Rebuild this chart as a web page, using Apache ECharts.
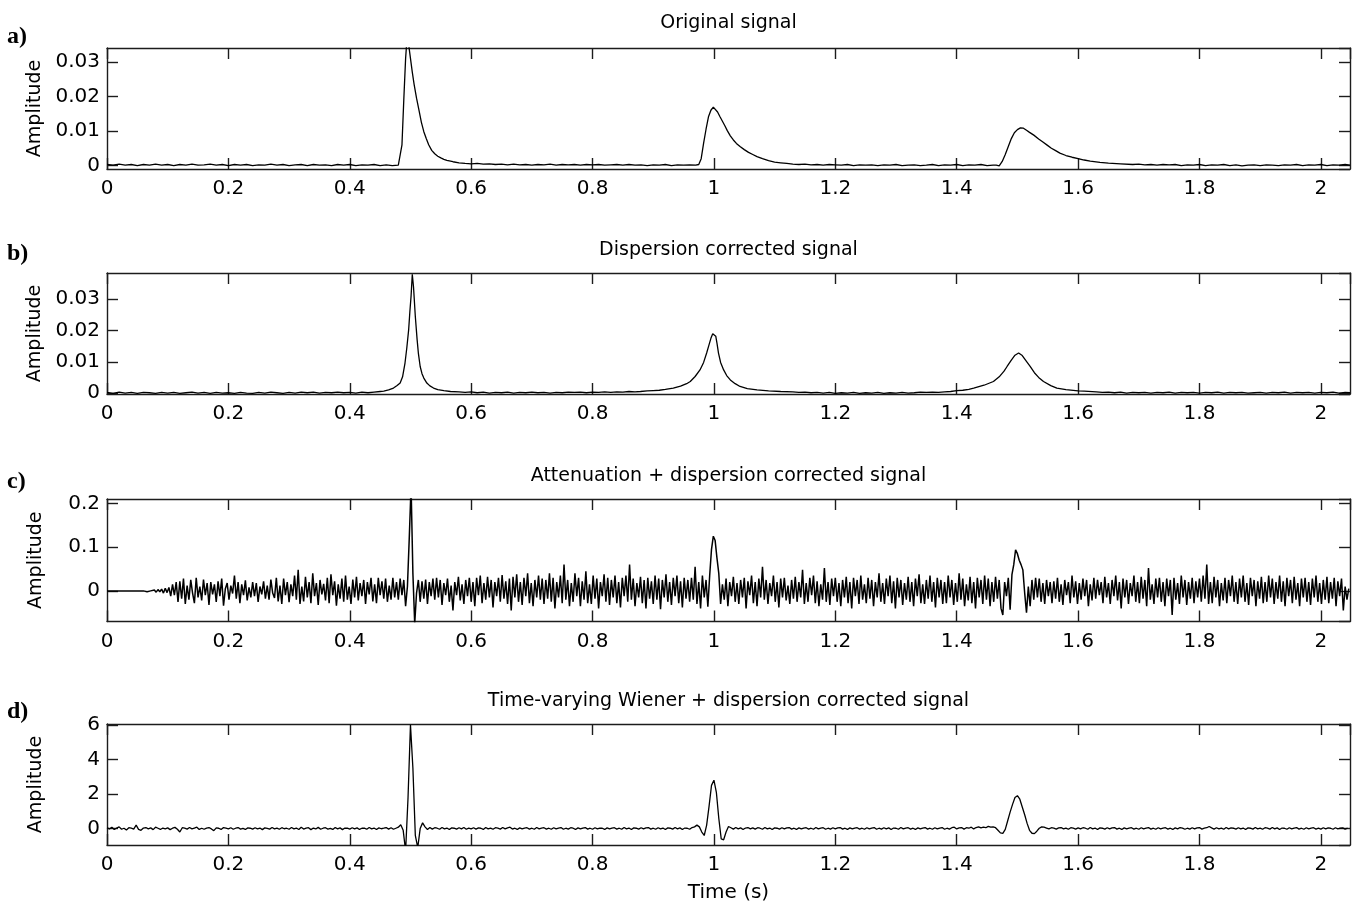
<!DOCTYPE html>
<html>
<head>
<meta charset="utf-8">
<script src="https://cdn.jsdelivr.net/npm/echarts@6/dist/echarts.min.js"></script>
<style>
  html, body { margin: 0; padding: 0; background: #fff; }
  #chart { width: 1354px; height: 904px; }
</style>
</head>
<body>
<div id="chart"></div>
<script>
// ---- Time axis ----
const timeRange = [0, 2.048];
const timeTickStep = 0.2;

// ---- Panel texts ----
const panelLetters = ['a)', 'b)', 'c)', 'd)'];
const panelTitles = [
  'Original signal',
  'Dispersion corrected signal',
  'Attenuation + dispersion corrected signal',
  'Time-varying Wiener + dispersion corrected signal'
];
const amplitudeName = 'Amplitude';
const timeName = 'Time (s)';

// ---- Amplitude axes ----
const amplitudeRanges = [[-0.001, 0.034], [-0.0003, 0.0384], [-0.07, 0.21], [-0.95, 6.05]];
const amplitudeTickSteps = [0.01, 0.01, 0.1, 2];

// ---- a) Original signal: [time (s), amplitude] ----
const originalSignal = [
[0,0.0003],[0.01,0.0001],[0.02,0.0004],[0.03,0.0001],[0.04,0.0003],[0.05,0.0],[0.06,0.0003],[0.07,0.0001],[0.08,0.0004],[0.09,0.0001],
[0.1,0.0003],[0.11,0.0],[0.12,0.0003],[0.13,0.0001],[0.14,0.0004],[0.15,0.0001],[0.16,0.0002],[0.17,0.0004],[0.18,0.0001],[0.19,0.0003],
[0.2,0.0],[0.21,0.0003],[0.22,0.0001],[0.23,0.0003],[0.24,0.0],[0.25,0.0002],[0.26,0.0001],[0.27,0.0004],[0.28,0.0001],[0.29,0.0003],
[0.3,0.0],[0.31,0.0002],[0.32,0.0003],[0.33,0.0],[0.34,0.0003],[0.35,0.0001],[0.36,0.0002],[0.37,0.0],[0.38,0.0003],[0.39,0.0001],
[0.4,0.0003],[0.41,0.0],[0.42,0.0002],[0.43,0.0001],[0.44,0.0003],[0.45,0.0],[0.46,0.0002],[0.47,0.0],[0.48,0.0001],
[0.483,0.0002],[0.486,0.006],[0.489,0.019],[0.492,0.031],[0.494,0.036],[0.497,0.035],[0.5,0.031],[0.503,0.027],[0.506,0.0235],[0.51,0.0195],
[0.514,0.016],[0.518,0.0125],[0.522,0.0098],[0.526,0.0078],[0.53,0.006],[0.535,0.0044],[0.54,0.0034],[0.545,0.0027],[0.55,0.0022],[0.555,0.0018],
[0.56,0.0015],[0.57,0.0011],[0.58,0.0008],[0.59,0.0006],[0.6,0.0005],[0.61,0.0006],[0.62,0.0004],[0.63,0.0005],[0.64,0.0003],[0.65,0.0004],
[0.66,0.0002],[0.67,0.0004],[0.68,0.0002],[0.69,0.0003],[0.7,0.0001],[0.71,0.0003],[0.72,0.0002],[0.73,0.0004],[0.74,0.0001],[0.75,0.0003],
[0.76,0.0002],[0.77,0.0003],[0.78,0.0001],[0.79,0.0003],[0.8,0.0002],[0.81,0.0003],[0.82,0.0001],[0.83,0.0002],[0.84,0.0003],[0.85,0.0001],
[0.86,0.0003],[0.87,0.0001],[0.88,0.0002],[0.89,0.0],[0.9,0.0002],[0.91,0.0001],[0.92,0.0003],[0.93,0.0],[0.94,0.0002],[0.95,0.0001],[0.96,0.0002],[0.97,0.0001],
[0.975,0.0003],[0.979,0.002],[0.983,0.0065],[0.987,0.0105],[0.991,0.0141],[0.995,0.016],[0.999,0.0169],[1.002,0.0166],[1.006,0.0155],[1.01,0.0141],
[1.014,0.0128],[1.018,0.0115],[1.022,0.0101],[1.027,0.0086],[1.032,0.0074],[1.037,0.0064],[1.043,0.0055],[1.05,0.0046],[1.057,0.0038],[1.064,0.0032],
[1.071,0.0026],[1.08,0.002],[1.09,0.0014],[1.1,0.001],[1.11,0.0008],[1.12,0.0006],[1.13,0.0004],[1.14,0.0003],[1.15,0.0004],[1.16,0.0002],
[1.17,0.0003],[1.18,0.0001],[1.19,0.0003],[1.2,0.0002],[1.21,0.0001],[1.22,0.0003],[1.23,0.0],[1.24,0.0002],[1.25,0.0001],[1.26,0.0002],
[1.27,0.0],[1.28,0.0002],[1.29,0.0001],[1.3,0.0003],[1.31,0.0],[1.32,0.0001],[1.33,0.0002],[1.34,0.0],[1.35,0.0001],[1.36,0.0003],
[1.37,0.0],[1.38,0.0002],[1.39,0.0001],[1.4,0.0003],[1.41,0.0],[1.42,0.0002],[1.43,0.0001],[1.44,0.0003],[1.45,0.0],[1.46,0.0001],[1.465,0.0001],
[1.47,-0.0001],[1.475,0.0012],[1.48,0.0032],[1.485,0.0055],[1.49,0.0078],[1.495,0.0095],[1.5,0.0104],[1.505,0.0109],[1.51,0.0108],[1.515,0.0102],
[1.52,0.0096],[1.527,0.0088],[1.535,0.0077],[1.542,0.0068],[1.549,0.0059],[1.556,0.005],[1.563,0.0043],[1.57,0.0036],[1.58,0.0029],[1.59,0.0024],
[1.6,0.002],[1.61,0.0016],[1.62,0.0013],[1.636,0.0009],[1.65,0.0007],[1.67,0.0005],[1.69,0.0003],[1.7,0.0004],[1.71,0.0002],[1.72,0.0003],
[1.73,0.0001],[1.74,0.0003],[1.75,0.0002],[1.76,0.0003],[1.77,0.0],[1.78,0.0002],[1.79,0.0001],[1.8,0.0003],[1.81,0.0],[1.82,0.0002],
[1.83,0.0001],[1.84,0.0003],[1.85,0.0],[1.86,0.0002],[1.87,-0.0001],[1.88,0.0001],[1.89,0.0002],[1.9,0.0],[1.91,0.0002],[1.92,0.0001],
[1.93,0.0],[1.94,0.0002],[1.95,0.0001],[1.96,0.0003],[1.97,0.0],[1.98,0.0002],[1.99,0.0001],[2.0,0.0003],[2.01,0.0],[2.02,0.0002],[2.03,0.0001],[2.04,0.0003],[2.048,0.0001]
];

// ---- b) Dispersion corrected signal: [time (s), amplitude] ----
const dispersionCorrected = [
[0,0.0002],[0.01,-0.0001],[0.02,0.0003],[0.03,0.0],[0.04,0.0002],[0.05,-0.0001],[0.06,0.0002],[0.07,0.0001],[0.08,-0.0001],[0.09,0.0002],
[0.1,0.0],[0.11,0.0002],[0.12,-0.0001],[0.13,0.0001],[0.14,0.0003],[0.15,0.0],[0.16,0.0002],[0.17,-0.0001],[0.18,0.0002],[0.19,0.0],
[0.2,0.0001],[0.21,-0.0001],[0.22,0.0002],[0.23,0.0],[0.24,-0.0001],[0.25,0.0002],[0.26,0.0],[0.27,0.0003],[0.28,0.0001],[0.29,-0.0001],
[0.3,0.0002],[0.31,0.0],[0.32,0.0003],[0.33,0.0001],[0.34,0.0003],[0.35,0.0],[0.36,0.0002],[0.37,0.0001],[0.38,0.0003],[0.39,0.0001],
[0.4,0.0002],[0.41,0.0],[0.42,0.0003],[0.43,0.0001],[0.44,0.0003],[0.45,0.0005],[0.456,0.0006],[0.464,0.001],[0.472,0.0016],[0.478,0.0024],
[0.483,0.0032],[0.487,0.0052],[0.491,0.0096],[0.494,0.0145],[0.497,0.0202],[0.499,0.026],[0.501,0.031],[0.503,0.038],[0.505,0.034],[0.508,0.0245],
[0.511,0.017],[0.513,0.0128],[0.516,0.0085],[0.519,0.0062],[0.522,0.0048],[0.527,0.0032],[0.532,0.0023],[0.538,0.0016],[0.545,0.0011],[0.555,0.0008],
[0.566,0.0005],[0.58,0.0004],[0.59,0.0002],[0.6,0.0004],[0.61,0.0001],[0.62,0.0003],[0.63,0.0],[0.64,0.0002],[0.65,0.0001],[0.66,0.0003],
[0.67,0.0],[0.68,0.0002],[0.69,0.0001],[0.7,0.0003],[0.71,0.0001],[0.72,0.0002],[0.73,0.0],[0.74,0.0002],[0.75,0.0001],[0.76,0.0003],
[0.77,0.0002],[0.78,0.0003],[0.79,0.0001],[0.8,0.0003],[0.81,0.0002],[0.82,0.0004],[0.83,0.0002],[0.84,0.0004],[0.85,0.0003],[0.86,0.0005],
[0.87,0.0004],[0.879,0.0005],[0.89,0.0007],[0.9,0.0008],[0.91,0.0009],[0.92,0.0012],[0.933,0.0016],[0.945,0.0022],[0.955,0.003],[0.961,0.0037],
[0.969,0.0053],[0.977,0.0074],[0.983,0.0098],[0.988,0.0128],[0.992,0.0155],[0.995,0.0175],[0.998,0.019],[1.0,0.0193],[1.003,0.0182],[1.005,0.016],
[1.0075,0.0128],[1.011,0.0098],[1.016,0.0074],[1.021,0.0056],[1.027,0.0042],[1.035,0.003],[1.043,0.0021],[1.055,0.0014],[1.071,0.001],[1.09,0.0007],
[1.11,0.0005],[1.13,0.0004],[1.14,0.0002],[1.15,0.0003],[1.16,0.0001],[1.17,0.0002],[1.18,0.0],[1.19,0.0002],[1.2,-0.0001],[1.21,0.0001],
[1.22,0.0],[1.23,0.0002],[1.24,-0.0001],[1.25,0.0001],[1.26,0.0],[1.27,0.0002],[1.28,-0.0001],[1.29,0.0001],[1.3,0.0],[1.31,0.0002],
[1.32,0.0],[1.33,0.0001],[1.34,0.0003],[1.35,0.0002],[1.36,0.0003],[1.37,0.0002],[1.38,0.0004],[1.39,0.0005],[1.4,0.0008],[1.41,0.0009],
[1.42,0.0012],[1.428,0.0016],[1.445,0.0025],[1.4605,0.0037],[1.47,0.0052],[1.478,0.007],[1.483,0.0085],[1.49,0.0105],[1.496,0.0121],[1.502,0.0128],
[1.508,0.012],[1.514,0.0104],[1.521,0.0085],[1.528,0.0065],[1.535,0.005],[1.543,0.0037],[1.555,0.0024],[1.565,0.0016],[1.58,0.0011],[1.6,0.0007],
[1.61,0.0006],[1.63,0.0004],[1.64,0.0002],[1.65,0.0003],[1.66,0.0001],[1.67,0.0003],[1.68,0.0],[1.69,0.0002],[1.7,0.0001],[1.71,0.0002],
[1.72,0.0],[1.73,0.0002],[1.74,0.0001],[1.75,0.0003],[1.76,0.0],[1.77,0.0002],[1.78,0.0001],[1.79,0.0002],[1.8,0.0],[1.81,0.0002],
[1.82,0.0001],[1.83,0.0003],[1.84,0.0],[1.85,0.0002],[1.86,0.0001],[1.87,0.0002],[1.88,0.0],[1.89,0.0001],[1.9,0.0002],[1.91,0.0],
[1.92,0.0002],[1.93,0.0001],[1.94,0.0003],[1.95,0.0],[1.96,0.0002],[1.97,0.0001],[1.98,0.0002],[1.99,0.0],[2.0,0.0002],[2.01,0.0001],
[2.02,0.0003],[2.03,0.0],[2.04,0.0002],[2.048,0.0001]
];

// ---- c) Attenuation + dispersion corrected signal, sampled every 3 ms from t = 0 ----
const attenuationDt = 0.003;
const attenuationCorrected = [
0,0,0,0,0,0,0,0,0,0,0,0,0,0,0,0,0,0,0,0,
0,.002,-.002,.001,0,-.001,.002,-.003,.003,-.002,.004,-.005,.006,-.004,.008,-.012,.015,-.01,.02,-.025,
.022,-.018,.028,-.03,.012,-.02,.025,-.005,-.028,.03,-.015,.01,-.022,.026,-.01,.018,-.032,.02,-.008,.015,
-.025,.022,-.012,.028,-.034,.005,.018,-.02,.012,-.006,.035,-.018,.02,-.028,.015,-.01,.024,-.022,.008,-.015,
.02,-.012,.018,-.025,.01,-.008,.022,-.018,.012,-.02,.026,-.005,-.016,.03,-.024,.012,-.03,.028,-.01,.02,
-.026,.015,-.012,.035,-.02,.048,-.03,.01,-.024,.032,-.015,.02,-.028,.04,-.012,.018,-.032,.025,-.008,.016,
-.022,.03,-.028,.038,-.01,.022,-.034,.015,-.018,.028,-.025,.035,-.02,.01,-.03,.026,-.015,.032,-.022,.018,
-.012,.025,-.03,.02,-.008,.03,-.024,.015,-.028,.03,-.01,.022,-.018,.028,-.025,.012,-.02,.03,-.015,.02,
-.02,.028,-.01,.025,-.035,.01,.12,.24,.04,-.075,-.005,.025,-.025,.022,-.018,.026,-.03,.02,-.012,.028,
-.02,.03,-.015,.025,-.032,.018,-.01,.028,-.025,.012,-.045,.02,-.01,.032,-.022,.015,-.03,.025,-.012,.03,
-.025,.02,-.035,.03,-.01,.035,-.028,.018,-.02,.032,-.015,.025,-.038,.02,-.012,.03,-.025,.036,-.018,.022,
-.03,.028,-.045,.032,-.015,.038,-.025,.02,-.032,.03,-.012,.04,-.028,.018,-.035,.025,-.015,.035,-.02,.028,
-.03,.025,-.018,.04,-.025,.03,-.04,.02,-.015,.035,-.028,.06,-.02,.025,-.035,.018,-.025,.04,-.012,.03,
-.035,.022,-.02,.045,-.028,.015,-.03,.035,-.018,.028,-.04,.02,-.012,.038,-.025,.03,-.032,.025,-.015,.035,
-.028,.02,-.038,.03,-.012,.035,-.025,.06,-.02,.028,-.035,.018,-.015,.032,-.028,.025,-.04,.03,-.018,.022,
-.03,.035,-.02,.028,-.042,.025,-.015,.038,-.025,.02,-.032,.03,-.012,.035,-.028,.022,-.038,.03,-.018,.025,
-.025,.03,-.02,.055,-.03,.02,-.04,.035,-.015,.025,-.036,.035,.095,.125,.115,.075,.04,-.03,.015,-.02,
.028,-.035,.02,-.012,.032,-.025,.018,-.03,.025,-.015,.03,-.04,.022,-.01,.035,-.028,.02,-.035,.028,-.015,
.055,-.02,.025,-.03,.018,-.012,.035,-.025,.02,-.038,.028,-.015,.03,-.022,.012,-.03,.025,-.018,.032,-.025,
.02,-.015,.048,-.03,.018,-.025,.03,-.01,.035,-.028,.022,-.035,.015,-.02,.052,-.025,.02,-.032,.028,-.012,
.03,-.025,.018,-.035,.025,-.015,.032,-.028,.02,-.04,.03,-.012,.025,-.03,.035,-.02,.015,-.028,.03,-.018,
.025,-.035,.02,-.015,.04,-.025,.018,-.03,.028,-.012,.035,-.028,.022,-.04,.03,-.015,.025,-.032,.018,-.02,
.032,-.025,.02,-.035,.028,-.012,.038,-.028,.015,-.03,.025,-.018,.035,-.025,.02,-.038,.03,-.015,.025,-.03,
.02,-.028,.035,-.015,.025,-.032,.018,-.025,.04,-.02,.028,-.035,.015,-.022,.032,-.028,.02,-.04,.03,-.015,
.025,-.03,.035,-.02,.028,-.035,.02,-.025,.032,-.018,.025,-.04,-.055,.02,-.012,.03,-.043,.037,.06,.094,
.085,.07,.06,.048,-.005,-.05,.01,-.035,.025,-.02,.03,-.015,.028,-.025,.018,-.03,.025,-.012,.02,-.028,
.022,-.018,.03,-.025,.015,-.032,.025,-.01,.02,-.028,.035,-.015,.022,-.03,.018,-.02,.028,-.012,.025,-.035,
.015,-.022,.03,-.018,.025,-.01,.02,-.028,.032,-.015,.018,-.03,.025,-.012,.035,-.022,.02,-.04,.028,-.015,
.025,-.03,.018,-.012,.035,-.025,.02,-.028,.032,-.018,.025,-.035,.052,-.02,.015,-.03,.028,-.015,.03,-.025,
.02,-.035,.028,-.012,.025,-.055,.03,-.02,.018,-.03,.035,-.015,.025,-.032,.02,-.018,.03,-.028,.022,-.015,
.028,-.025,.035,-.018,.06,-.03,.02,-.028,.032,-.015,.025,-.035,.018,-.022,.03,-.028,.025,-.012,.035,-.025,
.02,-.03,.028,-.015,.035,-.025,.018,-.032,.03,-.012,.025,-.035,.022,-.018,.032,-.028,.02,-.025,.035,-.015,
.028,-.03,.02,-.018,.035,-.025,.022,-.035,.03,-.012,.025,-.028,.032,-.02,.018,-.035,.028,-.015,.03,-.025,
.02,-.032,.028,-.015,.035,-.025,.018,-.03,.025,-.02,.032,-.028,.02,-.018,.03,-.035,.022,-.012,.028,-.045,
.01,-.02,.005
];

// ---- d) Time-varying Wiener + dispersion corrected signal, sampled every 4 ms from t = 0 ----
const wienerDt = 0.004;
const wienerCorrected = [
.05,-.02,.08,-.05,.03,.1,-.04,.02,-.08,.05,.02,-.03,.2,-.05,-.1,.03,.06,-.02,.04,-.06,.08,.02,-.05,.03,-.02,
.04,-.06,.02,.07,-.04,-.2,.05,.02,-.03,.06,-.02,.03,.08,-.05,.02,-.04,.03,.06,-.02,-.12,.04,.02,-.05,.06,.03,
-.02,.05,-.04,.02,.06,-.03,.01,-.05,.04,.02,-.03,.05,-.02,.03,-.06,.04,.01,-.03,.06,-.02,.03,-.04,.05,-.01,.02,
-.04,.06,-.02,.03,-.05,.08,-.03,.02,.05,-.06,.03,-.02,.07,-.04,.02,.05,-.03,.01,-.05,.06,-.02,.04,-.06,.03,.02,
-.03,.05,-.02,.04,-.05,.02,.03,-.04,.06,-.02,.03,-.05,.04,-.01,.02,.06,-.03,.05,-.04,.02,.08,.22,-.1,-1.3,1.8,
6.0,3.5,-.4,-1.1,0,.33,.1,-.05,.06,-.03,.05,.02,-.04,.06,-.02,.03,-.05,.04,.02,-.03,.05,-.02,.06,-.04,.03,
-.02,.05,-.03,.04,.02,-.05,.06,-.02,.03,-.04,.05,.02,-.03,.06,-.02,.04,.08,-.03,.02,-.05,.04,-.02,.03,.05,-.03,
.02,-.04,.06,-.02,.03,.05,-.03,.02,-.04,.05,-.02,.03,.06,-.04,.02,-.03,.05,.02,-.05,.04,-.02,.03,.06,-.03,.02,
-.04,.05,-.02,.03,.02,-.05,.04,-.02,.03,.05,-.03,.02,-.04,.06,-.02,.03,-.05,.04,.02,-.03,.05,-.02,.04,.06,-.03,
.02,-.04,.05,-.02,.03,-.05,.04,.02,-.03,.06,-.02,.04,-.05,.03,.02,-.04,.06,.1,.2,.1,-.2,-.4,.2,1.3,2.5,
2.8,2.1,.6,-.6,-.65,-.2,.12,.05,-.03,.06,-.02,.04,-.05,.03,.06,-.02,.04,-.03,.05,.02,-.04,.06,-.02,.03,-.05,
.04,.02,-.03,.05,-.02,.04,.06,-.03,.02,-.05,.04,-.02,.03,.05,-.03,.02,-.04,.06,-.02,.03,.05,-.04,.02,-.03,.05,
-.02,.04,.06,-.03,.02,-.05,.04,-.02,.03,.05,-.03,.02,-.04,.05,-.02,.03,.06,-.04,.02,-.03,.05,-.02,.04,-.05,.03,
.02,-.04,.06,-.02,.03,.05,-.03,.02,-.05,.04,-.02,.03,.06,-.03,.02,-.04,.05,-.02,.03,.06,-.04,.02,-.03,.05,.08,
-.02,.04,.06,-.03,.05,.02,.08,-.02,.06,.1,.04,.08,.05,.13,.08,.1,.05,-.1,-.25,-.28,-.05,.45,.95,1.4,1.8,
1.9,1.7,1.25,.8,.3,-.1,-.27,-.29,-.15,.02,.1,.08,.03,-.02,.05,.02,-.03,.04,.06,-.02,.03,-.04,.05,.02,-.03,
.04,-.02,.05,.02,-.04,.06,-.02,.03,-.05,.04,.02,-.03,.05,-.02,.04,.06,-.03,.02,-.05,.04,-.02,.03,.05,-.03,.02,
-.04,.05,-.02,.03,.06,-.03,.02,-.04,.05,-.02,.03,.05,-.03,.02,-.05,.04,-.02,.06,.03,-.04,.02,-.03,.05,-.02,.04,
.06,-.03,.02,.05,.12,.04,-.03,.05,-.02,.03,-.04,.06,-.02,.04,.02,-.03,.05,-.02,.03,-.05,.04,.02,-.03,.06,-.02,
.03,-.04,.05,.02,-.03,.06,-.02,.04,-.05,.03,.02,-.04,.05,-.02,.03,.06,-.03,.02,-.04,.05,-.02,.03,.05,-.03,.02,
-.03,.05,-.02,.04,.02,-.04,.05,-.02,.03,.04,-.03,.02
];

// ---- Layout ----
const ink = '#000';
const frameColor = '#1c1c1c';
const sansFont = '"DejaVu Sans", sans-serif';
const plotLeft = 107;
const plotRight = 4;
const plotTops = [48, 273, 499, 724];
const plotHeights = [121, 121, 122.5, 123];
const titleCenters = [23, 250, 476, 701];
const letterCenters = [37, 254, 482, 712];
const lineWidths = [1.3, 1.3, 1.5, 1.3];
const plotCenterX = plotLeft + (1354 - plotLeft - plotRight) / 2;

const panelSeries = [
  originalSignal,
  dispersionCorrected,
  attenuationCorrected.map((v, i) => [i * attenuationDt, v]),
  wienerCorrected.map((v, i) => [i * wienerDt, v])
];

const frameLine = { show: true, onZero: false, lineStyle: { color: frameColor, width: 1.4 } };
const innerTick = { show: true, inside: true, length: 11, lineStyle: { color: frameColor, width: 1.4 } };

const grid = [], xAxis = [], yAxis = [], series = [], graphic = [];

panelSeries.forEach((data, i) => {
  grid.push({ left: plotLeft, right: plotRight, top: plotTops[i], height: plotHeights[i], containLabel: false });

  const timeAxisBase = {
    type: 'value', gridIndex: i, min: timeRange[0], max: timeRange[1],
    minInterval: timeTickStep, maxInterval: timeTickStep,
    splitLine: { show: false }, axisLine: frameLine, axisTick: innerTick
  };
  xAxis.push(Object.assign({}, timeAxisBase, {
    position: 'bottom',
    axisLabel: { color: ink, fontSize: 20, fontFamily: sansFont, margin: 10, showMinLabel: true, showMaxLabel: false },
    name: i === panelSeries.length - 1 ? timeName : '',
    nameLocation: 'middle', nameGap: 38,
    nameTextStyle: { color: ink, fontSize: 20, fontFamily: sansFont }
  }));
  xAxis.push(Object.assign({}, timeAxisBase, { position: 'top', axisLabel: { show: false } }));

  const ampAxisBase = {
    type: 'value', gridIndex: i, min: amplitudeRanges[i][0], max: amplitudeRanges[i][1],
    minInterval: amplitudeTickSteps[i], maxInterval: amplitudeTickSteps[i],
    splitLine: { show: false }, axisLine: frameLine, axisTick: innerTick
  };
  yAxis.push(Object.assign({}, ampAxisBase, {
    position: 'left',
    axisLabel: { color: ink, fontSize: 20, fontFamily: sansFont, margin: 7, showMinLabel: false, showMaxLabel: false },
    name: amplitudeName, nameLocation: 'middle', nameGap: 61,
    nameTextStyle: { color: ink, fontSize: 19, fontFamily: sansFont }
  }));
  yAxis.push(Object.assign({}, ampAxisBase, { position: 'right', axisLabel: { show: false } }));

  series.push({
    type: 'line', xAxisIndex: 2 * i, yAxisIndex: 2 * i, data,
    showSymbol: false, symbol: 'none', clip: true, silent: true,
    lineStyle: { color: ink, width: lineWidths[i] }
  });

  graphic.push({
    type: 'text', x: plotCenterX, y: titleCenters[i], silent: true,
    style: { text: panelTitles[i], fill: ink, font: '19px "DejaVu Sans"', align: 'center', verticalAlign: 'middle' }
  });
  graphic.push({
    type: 'text', x: 7, y: letterCenters[i], silent: true,
    style: { text: panelLetters[i], fill: ink, font: 'bold 24px "Liberation Serif"', align: 'left', verticalAlign: 'middle' }
  });
});

const chart = echarts.init(document.getElementById('chart'), null, { renderer: 'canvas' });
chart.setOption({
  animation: false,
  backgroundColor: '#fff',
  grid, xAxis, yAxis, series, graphic
});
</script>
</body>
</html>
